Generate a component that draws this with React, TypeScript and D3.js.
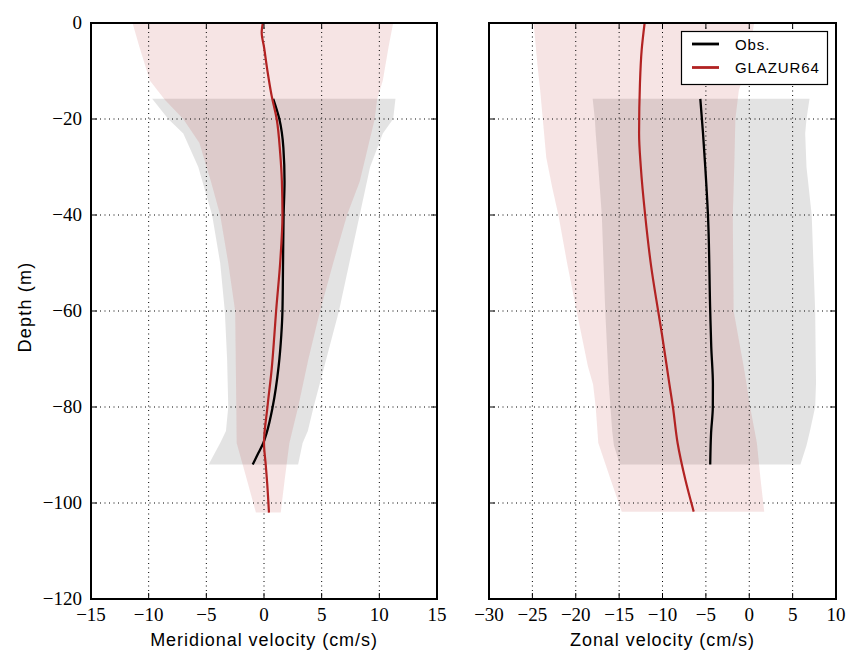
import * as d3 from 'd3'

// Meridional panel data (depth in m, velocity in cm/s)
const merModelDepth = [0, -2, -5, -10, -15, -20, -27, -33, -40, -50, -60, -65, -72, -80, -87.5, -92, -96, -102]
const merModelVel = [-0.1, -0.2, 0.0, 0.3, 0.65, 1.1, 1.4, 1.55, 1.6, 1.4, 1.05, 0.9, 0.67, 0.3, 0.0, 0.15, 0.28, 0.43]
const merObsDepth = [-15.8, -20, -26, -33, -40, -50, -60, -65, -71.5, -80, -85.4, -87.5, -89.6, -92]
const merObsVel = [0.8, 1.33, 1.68, 1.78, 1.7, 1.65, 1.6, 1.5, 1.27, 0.75, 0.23, -0.06, -0.49, -0.98]
const merModelBandDepth = [0, -5, -12, -16, -20, -25, -33, -40, -50, -60, -70, -80, -87.5, -95, -102]
const merModelBandLo = [-11.4, -10.8, -9.9, -8.6, -7.0, -5.6, -4.6, -3.8, -3.1, -2.5, -2.45, -2.4, -2.37, -1.5, -0.7]
const merModelBandHi = [11.2, 10.8, 10.3, 9.8, 9.6, 9.1, 8.3, 7.2, 6.0, 4.86, 3.85, 2.96, 2.2, 1.8, 1.45]
const merObsBandDepth = [-15.8, -20, -23, -30, -40, -50, -60, -70, -80, -85, -87.5, -92]
const merObsBandLo = [-9.7, -8.3, -7.0, -5.7, -4.5, -3.8, -3.4, -3.2, -3.1, -3.3, -3.8, -4.8]
const merObsBandHi = [11.4, 11.2, 10.3, 9.2, 8.3, 7.4, 6.5, 5.4, 4.3, 3.8, 3.35, 2.96]

// Zonal panel data
const zonModelDepth = [0, -5.6, -12.6, -23, -30, -40, -50.8, -60, -64.9, -75.3, -80, -87.5, -95.1, -101.8]
const zonModelVel = [-12.06, -12.4, -12.6, -12.7, -12.5, -12.0, -11.3, -10.5, -10.06, -9.2, -8.8, -8.26, -7.37, -6.4]
const zonObsDepth = [-15.8, -23, -30, -40, -60, -67.5, -75.3, -80, -85.4, -92]
const zonObsVel = [-5.64, -5.33, -5.07, -4.76, -4.5, -4.38, -4.19, -4.2, -4.4, -4.5]
const zonModelBandDepth = [0, -9, -14, -20, -28, -34.4, -40, -50, -60, -71.5, -75.3, -80, -87.5, -95, -101.8]
const zonModelBandLo = [-24.85, -24.4, -24.1, -23.8, -23.4, -22.7, -22.0, -21.0, -19.9, -18.6, -18.0, -17.7, -17.4, -16.0, -14.7]
const zonModelBandHi = [0.57, -0.27, -1.2, -1.6, -1.7, -1.8, -1.9, -1.85, -1.8, -0.65, -0.3, 0.1, 0.88, 1.3, 1.73]
const zonObsBandDepth = [-15.8, -20, -23, -30, -40, -60, -75, -80, -85, -88, -92]
const zonObsBandLo = [-18.05, -17.8, -17.7, -17.4, -17.0, -16.6, -16.2, -16.0, -15.8, -15.6, -14.9]
const zonObsBandHi = [6.95, 6.6, 6.45, 6.6, 7.2, 7.6, 7.7, 7.6, 7.0, 6.6, 5.9]

const merTicks = [-15, -10, -5, 0, 5, 10, 15]
const zonTicks = [-30, -25, -20, -15, -10, -5, 0, 5, 10]
const depthTicks = [0, -20, -40, -60, -80, -100, -120]
const legendLabels = ['Obs.', 'GLAZUR64']

const RED = '#b22222'
const TOP = 23
const BOTTOM = 599
const serif = '"Liberation Serif", "DejaVu Serif", serif'
const sans = '"Liberation Sans", Arial, sans-serif'

const fmt = (v: number) => (v < 0 ? '\u2212' + Math.abs(v) : String(v))

type PanelProps = {
  x0: number
  x1: number
  domain: [number, number]
  ticks: number[]
  xLabel: string
  showY: boolean
  modelDepth: number[]
  modelVel: number[]
  obsDepth: number[]
  obsVel: number[]
  mbDepth: number[]
  mbLo: number[]
  mbHi: number[]
  obDepth: number[]
  obLo: number[]
  obHi: number[]
  legend?: boolean
}

function Panel(p: PanelProps) {
  const x = d3.scaleLinear().domain(p.domain).range([p.x0, p.x1])
  const y = d3.scaleLinear().domain([0, -120]).range([TOP, BOTTOM])

  const band = (depth: number[], lo: number[], hi: number[]) =>
    d3.area<number>()
      .y(i => y(depth[i]))
      .x0(i => x(lo[i]))
      .x1(i => x(hi[i]))
      .curve(d3.curveLinear)(depth.map((_, i) => i)) || ''

  const line = (depth: number[], vel: number[]) =>
    d3.line<number>()
      .x(i => x(vel[i]))
      .y(i => y(depth[i]))
      .curve(d3.curveMonotoneY)(depth.map((_, i) => i)) || ''

  const tickLen = 6
  return (
    <g>
      {/* bands */}
      <path d={band(p.obDepth, p.obLo, p.obHi)} fill="rgba(0,0,0,0.11)" />
      <path d={band(p.mbDepth, p.mbLo, p.mbHi)} fill="rgba(178,34,34,0.12)" />

      {/* grid */}
      {p.ticks.slice(1, -1).map(t => (
        <line key={'gx' + t} x1={x(t)} x2={x(t)} y1={TOP} y2={BOTTOM}
          stroke="#000" strokeWidth={1} strokeDasharray="1,3.5" />
      ))}
      {depthTicks.slice(1, -1).map(t => (
        <line key={'gy' + t} x1={p.x0} x2={p.x1} y1={y(t)} y2={y(t)}
          stroke="#000" strokeWidth={1} strokeDasharray="1,3.5" />
      ))}

      {/* lines */}
      <path d={line(p.obsDepth, p.obsVel)} fill="none" stroke="#000" strokeWidth={2.3} />
      <path d={line(p.modelDepth, p.modelVel)} fill="none" stroke={RED} strokeWidth={2.2} />

      {/* ticks */}
      {p.ticks.map(t => (
        <g key={'tx' + t}>
          <line x1={x(t)} x2={x(t)} y1={BOTTOM} y2={BOTTOM - tickLen} stroke="#000" strokeWidth={1} />
          <line x1={x(t)} x2={x(t)} y1={TOP} y2={TOP + tickLen} stroke="#000" strokeWidth={1} />
          <text x={x(t)} y={621} textAnchor="middle" fontFamily={serif} fontSize={19}>{fmt(t)}</text>
        </g>
      ))}
      {depthTicks.map(t => (
        <g key={'ty' + t}>
          <line x1={p.x0} x2={p.x0 + tickLen} y1={y(t)} y2={y(t)} stroke="#000" strokeWidth={1} />
          <line x1={p.x1} x2={p.x1 - tickLen} y1={y(t)} y2={y(t)} stroke="#000" strokeWidth={1} />
          {p.showY && (
            <text x={p.x0 - 9} y={y(t) + 6} textAnchor="end" fontFamily={serif} fontSize={19}>{fmt(t)}</text>
          )}
        </g>
      ))}

      <rect x={p.x0} y={TOP} width={p.x1 - p.x0} height={BOTTOM - TOP} fill="none" stroke="#000" strokeWidth={2} />

      <text x={(p.x0 + p.x1) / 2} y={646} textAnchor="middle" fontFamily={sans} fontSize={18} letterSpacing={0.95}>{p.xLabel}</text>

      {p.legend && (
        <g>
          <rect x={681.5} y={31.5} width={146} height={53} fill="#fff" stroke="#000" strokeWidth={1.2} />
          {legendLabels.map((lab, i) => (
            <g key={lab}>
              <line x1={692} x2={719} y1={44 + i * 23.5} y2={44 + i * 23.5} stroke={i === 0 ? '#000' : RED} strokeWidth={2.8} />
              <text x={735} y={49.5 + i * 23.5} fontFamily={sans} fontSize={15} letterSpacing={0.9}>{lab}</text>
            </g>
          ))}
        </g>
      )}
    </g>
  )
}

export default function App() {
  return (
    <svg width={846} height={651} style={{ position: 'absolute', left: 0, top: 0, background: '#fff' }}>
      <rect width={846} height={651} fill="#fff" />
      <Panel x0={91} x1={437} domain={[-15, 15]} ticks={merTicks} xLabel="Meridional velocity (cm/s)" showY
        modelDepth={merModelDepth} modelVel={merModelVel} obsDepth={merObsDepth} obsVel={merObsVel}
        mbDepth={merModelBandDepth} mbLo={merModelBandLo} mbHi={merModelBandHi}
        obDepth={merObsBandDepth} obLo={merObsBandLo} obHi={merObsBandHi} />
      <Panel x0={489} x1={836} domain={[-30, 10]} ticks={zonTicks} xLabel="Zonal velocity (cm/s)" showY={false}
        modelDepth={zonModelDepth} modelVel={zonModelVel} obsDepth={zonObsDepth} obsVel={zonObsVel}
        mbDepth={zonModelBandDepth} mbLo={zonModelBandLo} mbHi={zonModelBandHi}
        obDepth={zonObsBandDepth} obLo={zonObsBandLo} obHi={zonObsBandHi} legend />
      <text transform="translate(31,307) rotate(-90)" textAnchor="middle" fontFamily={sans} fontSize={18} letterSpacing={1.2}>Depth (m)</text>
    </svg>
  )
}
